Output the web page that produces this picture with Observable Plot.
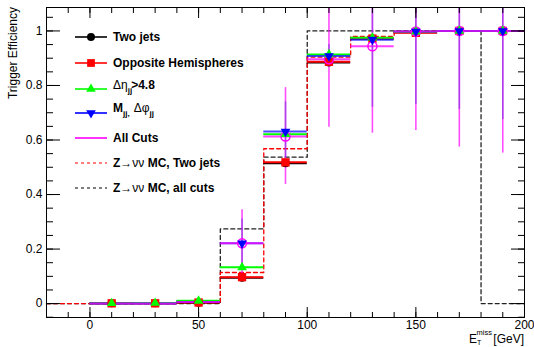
<!DOCTYPE html>
<html><head><meta charset="utf-8">
<script src="https://cdn.jsdelivr.net/npm/d3@7"></script>
<script src="https://cdn.jsdelivr.net/npm/@observablehq/plot@0.6"></script>
<style>body{margin:0;background:#fff}</style></head>
<body><div id="chart"></div>
<script>
// ---- data ----
const binLo   = [0, 20, 40, 60, 80, 100, 120, 140, 160, 180];
const binHi   = [20, 40, 60, 80, 100, 120, 140, 160, 180, 200];
const centers = [10, 30, 50, 70, 90, 110, 130, 150, 170, 190];

const twoJets = [0.001, 0.001, 0.003, 0.095, 0.515, 0.884, 0.972, 0.995, 1.0, 1.0];
const oppHemi = [0.001, 0.001, 0.004, 0.097, 0.518, 0.887, 0.972, 0.993, 1.0, 1.0];
const detaCut = [0.001, 0.002, 0.010, 0.133, 0.621, 0.914, 0.975, 0.997, 1.0, 1.0];
const mjjDphi = [0.0, 0.0, 0.006, 0.221, 0.631, 0.908, 0.968, 0.998, 1.0, 1.0];
const allCuts = [0.0, 0.0, 0.006, 0.221, 0.613, 0.896, 0.944, 0.998, 1.0, 1.0];

const allCutsLo = [0, 0, 0, 0.10, 0.437, 0.647, 0.625, 0.635, 0.574, 0.552];
const allCutsHi = [0, 0, 0.012, 0.344, 0.792, 1.16, 1.26, 1.36, 1.43, 1.45];
const mjjLo     = [0, 0, 0, 0.135, 0.536, 0.87, 0.72, 0.73, 0.712, 0.675];
const mjjHi     = [0, 0, 0.012, 0.31, 0.74, 0.95, 1.2, 1.26, 1.29, 1.32];

const mcEdges   = [-20, 0, 20, 40, 60, 80, 100, 120, 140, 160, 180, 200];
const mcTwoJets = [0, 0, 0.003, 0.006, 0.114, 0.568, 0.904, 0.98, 1, 1, 1];
const mcAllCuts = [0, 0, 0, 0, 0.274, 0.537, 1, 1, 1, 1, 0];

const xTickLabels = [0, 50, 100, 150, 200];
const yTickLabels = [0, 0.2, 0.4, 0.6, 0.8, 1];

// ---- tables ----
const seg = vals => centers.map((c, i) => ({x: c, x1: binLo[i], x2: binHi[i], v: vals[i]}));
const err = (lo, hi) => centers.map((c, i) => ({x: c, lo: lo[i], hi: hi[i]})).filter(d => d.hi > d.lo);
const step = vals => mcEdges.map((e, i) => ({x: e, v: vals[Math.min(i, vals.length - 1)]}));

const xMinor = d3.range(-2, 21).map(i => i * 10);
const yMinor = d3.range(-1, 22).map(i => +(i * 0.05).toFixed(2));
const fmt = d3.format("~g");
const blank = () => "";

const FONT = "'Liberation Sans', Arial, Helvetica, sans-serif";

const svg = Plot.plot({
  width: 534, height: 347,
  marginLeft: 46, marginRight: 10, marginTop: 7, marginBottom: 30,
  x: {domain: [-20, 200]},
  y: {domain: [-0.051, 1.086]},
  style: {fontFamily: FONT, fontSize: "12px", color: "black", background: "white"},
  marks: [
    Plot.line(step(mcAllCuts), {x: "x", y: "v", curve: "step-after", stroke: "#222", strokeDasharray: "4,3", strokeWidth: 1.3}),
    Plot.line(step(mcTwoJets), {x: "x", y: "v", curve: "step-after", stroke: "#ff0000", strokeDasharray: "4,3", strokeWidth: 1.3}),

    Plot.ruleY(seg(twoJets), {y: "v", x1: "x1", x2: "x2", stroke: "#000", strokeWidth: 2}),
    Plot.ruleY(seg(oppHemi), {y: "v", x1: "x1", x2: "x2", stroke: "#ff0000", strokeWidth: 2}),
    Plot.ruleY(seg(detaCut), {y: "v", x1: "x1", x2: "x2", stroke: "#00ff00", strokeWidth: 2}),
    Plot.ruleY(seg(mjjDphi), {y: "v", x1: "x1", x2: "x2", stroke: "#0000ff", strokeWidth: 2, strokeOpacity: 0.7}),
    Plot.ruleY(seg(allCuts), {y: "v", x1: "x1", x2: "x2", stroke: "#ff00ff", strokeWidth: 2, strokeOpacity: 0.75}),

    Plot.ruleX(err(allCutsLo, allCutsHi), {x: "x", y1: "lo", y2: "hi", stroke: "#ff00ff", strokeWidth: 1.6, strokeOpacity: 0.7, clip: true}),
    Plot.ruleX(err(mjjLo, mjjHi), {x: "x", y1: "lo", y2: "hi", stroke: "#7a30e0", strokeWidth: 1.6, strokeOpacity: 0.6, clip: true}),

    Plot.dot(seg(twoJets), {x: "x", y: "v", symbol: "circle", r: 4, fill: "#000"}),
    Plot.dot(seg(oppHemi), {x: "x", y: "v", symbol: "square", r: 4.7, fill: "#ff0000"}),
    Plot.dot(seg(allCuts).filter(d => d.x > 60), {x: "x", y: "v", symbol: "circle", r: 4.5, fill: "none", stroke: "#ff00ff", strokeWidth: 1.5}),
    Plot.dot(seg(detaCut), {x: "x", y: "v", symbol: "triangle", r: 3.6, fill: "#00ff00"}),
    Plot.dot(seg(mjjDphi).filter(d => d.x > 60), {x: "x", y: "v", symbol: "triangle", r: 3.6, fill: "#0000ff", rotate: 180}),

    Plot.frame({stroke: "black", strokeWidth: 1}),
    // inward ticks: tick drawn outward by tickSize, then shifted inward by the same inset
    Plot.axisX({anchor: "bottom", ticks: xMinor, tickSize: 5, insetBottom: 5, tickFormat: blank, label: null}),
    Plot.axisX({anchor: "bottom", ticks: xTickLabels, tickSize: 10, insetBottom: 10, tickFormat: blank, label: null}),
    Plot.axisX({anchor: "top", ticks: xMinor, tickSize: 5, insetTop: 5, tickFormat: blank, label: null}),
    Plot.axisX({anchor: "top", ticks: xTickLabels, tickSize: 10, insetTop: 10, tickFormat: blank, label: null}),
    Plot.axisY({anchor: "left", ticks: yMinor, tickSize: 7, insetLeft: 7, tickFormat: blank, label: null}),
    Plot.axisY({anchor: "left", ticks: yTickLabels, tickSize: 14, insetLeft: 14, tickFormat: blank, label: null}),
    Plot.axisY({anchor: "right", ticks: yMinor, tickSize: 7, insetRight: 7, tickFormat: blank, label: null}),
    Plot.axisY({anchor: "right", ticks: yTickLabels, tickSize: 14, insetRight: 14, tickFormat: blank, label: null}),
    Plot.axisX({anchor: "bottom", ticks: xTickLabels, tickSize: 0, tickPadding: 3, tickFormat: fmt, label: null, fontSize: 12}),
    Plot.axisY({anchor: "left", ticks: yTickLabels, tickSize: 0, tickPadding: 4, tickFormat: fmt, label: null, fontSize: 12})
  ]
});
document.getElementById("chart").appendChild(svg);

// ---- axis titles ----
const S = d3.select(svg);
const ann = S.append("g").attr("font-family", FONT).attr("fill", "black").attr("text-anchor", "start");
ann.append("text").attr("transform", "translate(17,7) rotate(-90)").attr("text-anchor", "end")
  .attr("font-size", 12).text("Trigger Efficiency");
ann.append("text").attr("x", 524).attr("y", 343).attr("text-anchor", "end").attr("font-size", 12).text("[GeV]");
ann.append("text").attr("x", 477).attr("y", 343).attr("text-anchor", "end").attr("font-size", 12).text("E");
ann.append("text").attr("x", 476.5).attr("y", 335).attr("font-size", 7.5).text("miss");
ann.append("text").attr("x", 477).attr("y", 345).attr("font-size", 7).text("T");

// ---- legend ----
const legendItems = [
  {ly: 37, ty: 41, color: "#000", sym: d3.symbolCircle, size: 50, html: '<tspan font-weight="bold">Two jets</tspan>'},
  {ly: 63, ty: 67, color: "#ff0000", sym: d3.symbolSquare, size: 60, html: '<tspan font-weight="bold">Opposite Hemispheres</tspan>'},
  {ly: 89, ty: 89, color: "#00ff00", sym: d3.symbolTriangle, size: 40, html: '<tspan>Δη</tspan><tspan font-size="8" dy="4" font-weight="bold">jj</tspan><tspan dy="-4" dx="-1" font-weight="bold">&gt;4.8</tspan>'},
  {ly: 113, ty: 112, color: "#0000ff", sym: d3.symbolTriangle, size: 40, rot: 180, html: '<tspan font-weight="bold">M</tspan><tspan font-size="8" dy="4" font-weight="bold">jj,</tspan><tspan dy="-4" dx="4">Δφ</tspan><tspan font-size="8" dy="4" font-weight="bold">jj</tspan>'},
  {ly: 138, ty: 142, color: "#ff00ff", html: '<tspan font-weight="bold">All Cuts</tspan>'},
  {ly: 163, ty: 167, color: "#ff0000", dash: "3,3", html: '<tspan font-weight="bold">Z</tspan><tspan>→νν</tspan><tspan font-weight="bold"> MC, Two jets</tspan>'},
  {ly: 188, ty: 192, color: "#000", dash: "3,3", html: '<tspan font-weight="bold">Z</tspan><tspan>→νν</tspan><tspan font-weight="bold"> MC, all cuts</tspan>'}
];
const leg = S.append("g").attr("font-family", FONT).attr("font-size", 12).attr("fill", "black").attr("text-anchor", "start");
legendItems.forEach(it => {
  leg.append("line").attr("x1", 75).attr("x2", 107).attr("y1", it.ly).attr("y2", it.ly)
    .attr("stroke", it.color).attr("stroke-width", it.dash ? 1.2 : 1.6)
    .attr("stroke-dasharray", it.dash || null);
  if (it.sym) {
    leg.append("path").attr("d", d3.symbol(it.sym, it.size)())
      .attr("transform", `translate(91,${it.ly}) rotate(${it.rot || 0})`).attr("fill", it.color);
  }
  leg.append("text").attr("x", 113).attr("y", it.ty).attr("text-anchor", "start").html(it.html);
});
</script></body></html>
